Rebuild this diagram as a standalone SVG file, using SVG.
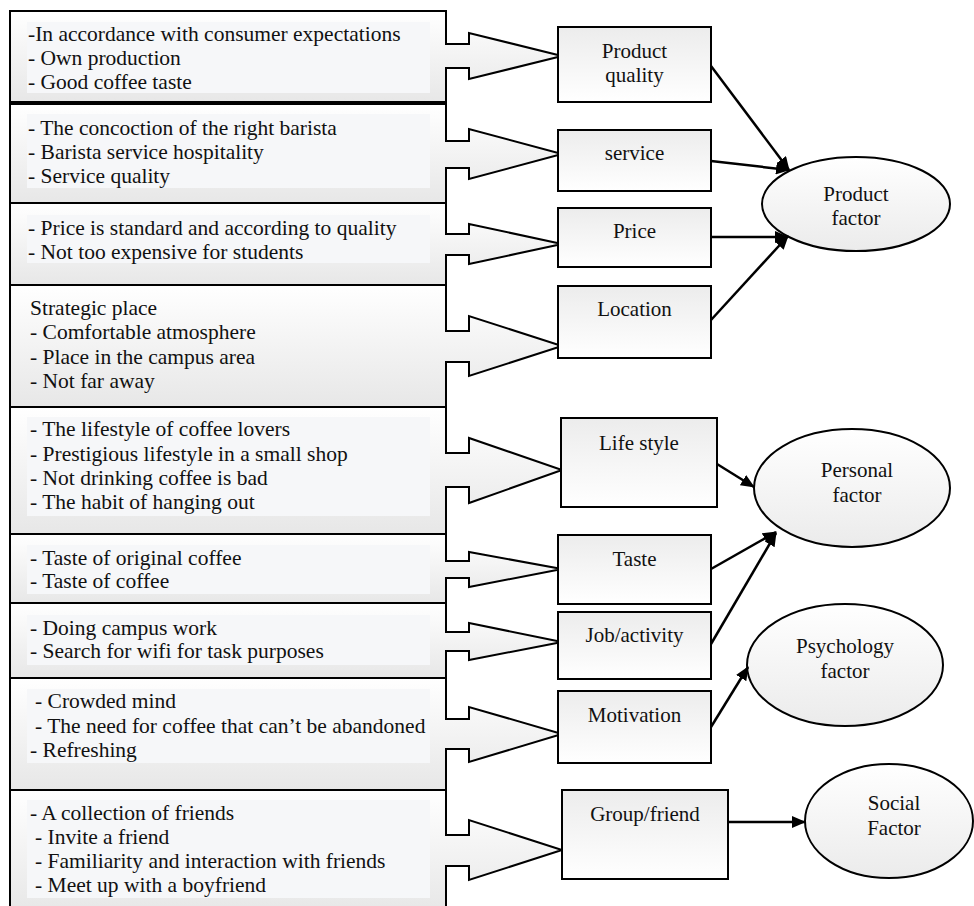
<svg xmlns="http://www.w3.org/2000/svg" width="974" height="906" viewBox="0 0 974 906">
<defs>
<linearGradient id="gCall" x1="0" y1="0" x2="0" y2="1">
<stop offset="0" stop-color="#ffffff"/><stop offset="1" stop-color="#e7e7e7"/>
</linearGradient>
<linearGradient id="gBox" x1="0" y1="0" x2="0" y2="1">
<stop offset="0" stop-color="#ececec"/><stop offset="1" stop-color="#ffffff"/>
</linearGradient>
<linearGradient id="gEll" x1="0" y1="0" x2="0" y2="1">
<stop offset="0" stop-color="#ffffff"/><stop offset="1" stop-color="#ebebeb"/>
</linearGradient>
<marker id="ah" viewBox="0 0 14 12" refX="13" refY="6" markerWidth="14" markerHeight="12" markerUnits="userSpaceOnUse" orient="auto">
<path d="M0,0 L14,6 L0,12 z" fill="#000"/>
</marker>
<style>
.call{fill:url(#gCall);stroke:#000;stroke-width:2}
.inner{fill:#f6f7f9;stroke:none}
.box{fill:url(#gBox);stroke:#000;stroke-width:2}
.ell{fill:url(#gEll);stroke:#000;stroke-width:2}
.t{font-family:"Liberation Serif","Times New Roman",serif;font-size:21.5px;fill:#111}
.c{font-family:"Liberation Serif","Times New Roman",serif;font-size:21px;fill:#111;text-anchor:middle}
.con{stroke:#000;stroke-width:2.5;fill:none;marker-end:url(#ah)}
</style>
</defs>
<rect width="974" height="906" fill="#ffffff"/>

<g id="callout-quality">
<path class="call" d="M10,11 H446 V44 H469 V33 L562,56 L469,79 V68 H446 V102 H10 Z"/>
<rect class="inner" x="27" y="22" width="403" height="71"/>
<text class="t" x="28" y="41">-In accordance with consumer expectations</text>
<text class="t" x="28" y="65">- Own production</text>
<text class="t" x="28" y="89">- Good coffee taste</text>
</g>
<g id="callout-service">
<path class="call" d="M10,104 H446 V141 H469 V129 L562,154 L469,179 V168 H446 V203 H10 Z"/>
<rect class="inner" x="27" y="114" width="403" height="74"/>
<text class="t" x="28" y="135">- The concoction of the right barista</text>
<text class="t" x="28" y="159">- Barista service hospitality</text>
<text class="t" x="28" y="183">- Service quality</text>
</g>
<g id="callout-price">
<path class="call" d="M10,203 H446 V234 H469 V224 L562,244 L469,264 V255 H446 V285 H10 Z"/>
<rect class="inner" x="27" y="215" width="403" height="48"/>
<text class="t" x="28" y="235">- Price is standard and according to quality</text>
<text class="t" x="28" y="259">- Not too expensive for students</text>
</g>
<g id="callout-location">
<path class="call" d="M10,285 H446 V331 H469 V316 L562,346 L469,376 V362 H446 V407 H10 Z"/>
<text class="t" x="30" y="315">Strategic place</text>
<text class="t" x="30" y="339">- Comfortable atmosphere</text>
<text class="t" x="30" y="364">- Place in the campus area</text>
<text class="t" x="30" y="388">- Not far away</text>
</g>
<g id="callout-lifestyle">
<path class="call" d="M10,407 H446 V453 H469 V438 L562,470 L469,503 V487 H446 V534 H10 Z"/>
<rect class="inner" x="27" y="417" width="403" height="99"/>
<text class="t" x="30" y="436">- The lifestyle of coffee lovers</text>
<text class="t" x="30" y="461">- Prestigious lifestyle in a small shop</text>
<text class="t" x="30" y="485">- Not drinking coffee is bad</text>
<text class="t" x="30" y="509">- The habit of hanging out</text>
</g>
<g id="callout-taste">
<path class="call" d="M10,534 H446 V561 H469 V552 L562,569 L469,587 V578 H446 V603 H10 Z"/>
<rect class="inner" x="27" y="545" width="403" height="49"/>
<text class="t" x="30" y="565">- Taste of original coffee</text>
<text class="t" x="30" y="588">- Taste of coffee</text>
</g>
<g id="callout-job">
<path class="call" d="M10,603 H446 V632 H469 V623 L562,642 L469,660 V651 H446 V678 H10 Z"/>
<rect class="inner" x="27" y="615" width="403" height="50"/>
<text class="t" x="30" y="635">- Doing campus work</text>
<text class="t" x="30" y="658">- Search for wifi for task purposes</text>
</g>
<g id="callout-motivation">
<path class="call" d="M10,678 H446 V719 H469 V707 L562,734 L469,762 V749 H446 V790 H10 Z"/>
<rect class="inner" x="27" y="689" width="403" height="74"/>
<text class="t" x="35" y="708">- Crowded mind</text>
<text class="t" x="35" y="733">- The need for coffee that can’t be abandoned</text>
<text class="t" x="30" y="757">- Refreshing</text>
</g>
<g id="callout-group">
<path class="call" d="M10,790 H446 V835 H469 V820 L562,850 L469,880 V866 H446 V912 H10 Z"/>
<rect class="inner" x="27" y="800" width="403" height="98"/>
<text class="t" x="30" y="820">- A collection of friends</text>
<text class="t" x="35" y="844">- Invite a friend</text>
<text class="t" x="35" y="868">- Familiarity and interaction with friends</text>
<text class="t" x="35" y="892">- Meet up with a boyfriend</text>
</g>

<g id="node-product-quality"><rect class="box" x="558" y="27" width="153" height="75"/>
<text class="c" x="634.5" y="58">Product</text><text class="c" x="634.5" y="82">quality</text></g>
<g id="node-service"><rect class="box" x="558" y="130" width="153" height="61"/>
<text class="c" x="634.5" y="160">service</text></g>
<g id="node-price"><rect class="box" x="558" y="208" width="153" height="59"/>
<text class="c" x="634.5" y="238">Price</text></g>
<g id="node-location"><rect class="box" x="558" y="286" width="153" height="72"/>
<text class="c" x="634.5" y="316">Location</text></g>
<g id="node-lifestyle"><rect class="box" x="561" y="418" width="156" height="89"/>
<text class="c" x="639" y="450">Life style</text></g>
<g id="node-taste"><rect class="box" x="558" y="535" width="153" height="69"/>
<text class="c" x="634.5" y="566">Taste</text></g>
<g id="node-job"><rect class="box" x="558" y="612" width="153" height="67"/>
<text class="c" x="634.5" y="642">Job/activity</text></g>
<g id="node-motivation"><rect class="box" x="558" y="691" width="153" height="72"/>
<text class="c" x="634.5" y="722">Motivation</text></g>
<g id="node-group"><rect class="box" x="562" y="790" width="166" height="89"/>
<text class="c" x="645" y="821">Group/friend</text></g>

<g id="node-product-factor"><ellipse class="ell" cx="856" cy="204" rx="94" ry="47"/>
<text class="c" x="856" y="201">Product</text><text class="c" x="856" y="225">factor</text></g>
<g id="node-personal-factor"><ellipse class="ell" cx="852" cy="488" rx="98" ry="59"/>
<text class="c" x="857" y="477">Personal</text><text class="c" x="857" y="502">factor</text></g>
<g id="node-psychology-factor"><ellipse class="ell" cx="845" cy="665" rx="98" ry="61"/>
<text class="c" x="845" y="653">Psychology</text><text class="c" x="845" y="678">factor</text></g>
<g id="node-social-factor"><ellipse class="ell" cx="889" cy="821" rx="84" ry="57"/>
<text class="c" x="894" y="810">Social</text><text class="c" x="894" y="835">Factor</text></g>

<g id="connectors">
<line class="con" x1="711" y1="66" x2="789" y2="170"/>
<line class="con" x1="711" y1="161" x2="789" y2="170"/>
<line class="con" x1="711" y1="237" x2="788" y2="237"/>
<line class="con" x1="711" y1="320" x2="788" y2="236"/>
<line class="con" x1="717" y1="464" x2="754" y2="487"/>
<line class="con" x1="711" y1="569" x2="776" y2="532"/>
<line class="con" x1="711" y1="644" x2="776" y2="533"/>
<line class="con" x1="711" y1="727" x2="748" y2="667"/>
<line class="con" x1="728" y1="822" x2="805" y2="822"/>
</g>
</svg>
